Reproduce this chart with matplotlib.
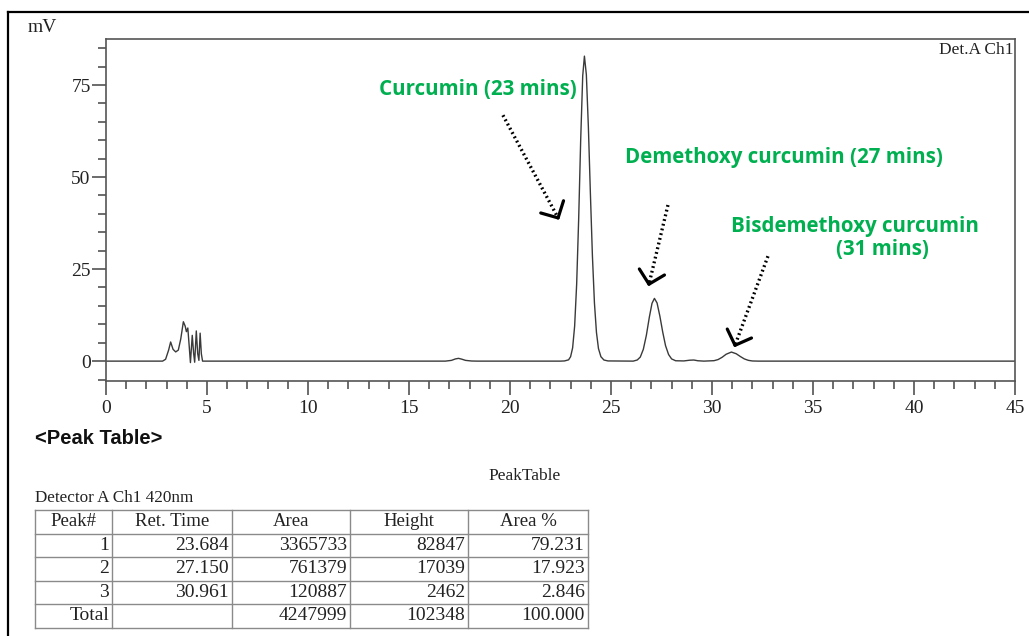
import math
import matplotlib
matplotlib.use("Agg")
import matplotlib.pyplot as plt
from matplotlib.lines import Line2D
from matplotlib.ticker import MultipleLocator

# peak table (Detector A Ch1 420nm)
peak_ids = ["1", "2", "3"]
ret_times = [23.684, 27.150, 30.961]
areas = [3365733, 761379, 120887]
heights = [82847, 17039, 2462]          # uV
area_pct = [79.231, 17.923, 2.846]
total_area = 4247999
total_height = 102348
total_pct = 100.000

# chromatogram trace (min, mV), apex points come from the peak table
trace_time = [0.0, 2.8, 2.95, 3.1, 3.2, 3.32, 3.45, 3.58, 3.7, 3.83, 3.92, 3.98, 4.05,
              4.12, 4.18, 4.27, 4.34, 4.39, 4.47, 4.54, 4.6, 4.66, 4.72, 4.78, 4.9,
              16.8, 17.1, 17.3, 17.45, 17.6, 17.8, 18.1, 18.4, 22.5,
              22.7, 22.9, 23.0, 23.1, 23.2, 23.3, 23.4, 23.5, 23.6,
              23.78, 23.88, 23.98, 24.08, 24.18, 24.28, 24.38, 24.5, 24.65, 24.85,
              26.1, 26.3, 26.45, 26.6, 26.75, 26.9, 27.03,
              27.28, 27.42, 27.56, 27.7, 27.85, 28.0, 28.2,
              28.6, 28.9, 29.1, 29.3, 29.6,
              30.1, 30.3, 30.5, 30.7,
              31.2, 31.4, 31.6, 31.8, 32.0, 32.3, 45.0]
trace_mv = [0.0, 0.0, 0.5, 3.0, 5.2, 3.2, 2.5, 3.0, 6.0, 10.7, 9.5, 8.0, 9.0,
            4.0, -0.4, 7.0, 2.0, -0.3, 8.2, 2.0, 0.2, 7.6, 2.0, 0.0, 0.0,
            0.0, 0.2, 0.6, 0.75, 0.55, 0.2, 0.03, 0.0, 0.0,
            0.05, 0.35, 1.2, 3.6, 9.5, 20.9, 38.7, 60.2, 77.5,
            77.8, 63.6, 45.5, 28.6, 15.8, 7.8, 3.4, 1.2, 0.3, 0.05,
            0.0, 0.31, 1.1, 3.2, 7.0, 12.0, 15.7,
            15.8, 12.2, 7.9, 4.2, 1.8, 0.6, 0.1,
            0.05, 0.25, 0.3, 0.1, 0.0,
            0.12, 0.42, 1.04, 1.87,
            2.0, 1.26, 0.6, 0.21, 0.04, 0.0, 0.0]

points = list(zip(trace_time, trace_mv))
points += [(t, h / 1000) for t, h in zip(ret_times, heights)]
points.sort()
tt = [p[0] for p in points]
mv = [p[1] for p in points]

W, H = 1029, 636
fig = plt.figure(figsize=(W / 100, H / 100), dpi=100)

def px(x, y):
    return x / W, 1 - y / H

serif = "Liberation Serif"
green = "#00B050"

ax = fig.add_axes([106 / W, 1 - 381 / H, 909 / W, 342 / H])
ax.plot(tt, mv, color="#3a3a3a", lw=1.0)
ax.set_xlim(0, 45)
ax.set_ylim(-5.4, 87.5)
ax.xaxis.set_major_locator(MultipleLocator(5))
ax.xaxis.set_minor_locator(MultipleLocator(1))
ax.yaxis.set_major_locator(MultipleLocator(25))
ax.yaxis.set_minor_locator(MultipleLocator(5))
ax.tick_params(which="major", length=10, width=1.1, color="#444", labelsize=14, pad=1)
ax.tick_params(which="minor", length=6, width=1.1, color="#444")
ax.tick_params(axis="x", which="major", pad=4)
for lab in ax.get_xticklabels() + ax.get_yticklabels():
    lab.set_fontfamily(serif)
    lab.set_color("#222")
for s in ax.spines.values():
    s.set_color("#555")
    s.set_linewidth(1.2)

ax.text(0.998, 0.968, "Det.A Ch1", transform=ax.transAxes, ha="right", va="center",
        family=serif, fontsize=12.5, color="#222")

# compound labels and dotted arrows
lab_kw = dict(color=green, fontsize=14.8, fontweight="bold", family="Open Sans",
              ha="center", va="center")
ax.text(18.42, 73.9, "Curcumin (23 mins)", **lab_kw)
ax.text(33.54, 55.4, "Demethoxy curcumin (27 mins)", **lab_kw)
ax.text(37.1, 36.7, "Bisdemethoxy curcumin", **lab_kw)
ax.text(38.44, 30.2, "(31 mins)", **lab_kw)

arrows = [((19.65, 66.8), (22.38, 38.9)),
          ((27.82, 42.4), (26.88, 20.9)),
          ((32.77, 28.5), (31.14, 4.3))]
to_px = ax.transData
to_data = ax.transData.inverted()
for (x0, y0), (x1, y1) in arrows:
    ax.plot([x0, x1], [y0, y1], color="black", lw=2.4, linestyle=(0, (0.55, 0.9)))
    # open V head, built in pixel space so it keeps its shape
    (a0, b0), (a1, b1) = to_px.transform([(x0, y0), (x1, y1)])
    ang = math.atan2(b0 - b1, a0 - a1)
    arm = 18
    for da in (-0.8, 0.8):
        ex, ey = a1 + arm * math.cos(ang + da), b1 + arm * math.sin(ang + da)
        (hx, hy), (tx, ty) = to_data.transform([(ex, ey), (a1, b1)])
        ax.plot([hx, tx], [hy, ty], color="black", lw=2.3, solid_capstyle="round")

# page frame lines
fig.add_artist(Line2D([8 / W, 1], [1 - 12 / H] * 2, color="black", lw=1.6))
fig.add_artist(Line2D([8 / W] * 2, [0, 1 - 12 / H], color="black", lw=1.6))

fig.text(*px(28, 27), "mV", family=serif, fontsize=14, color="#222", va="center")

# peak table section
fig.text(*px(35, 438), "<Peak Table>", family="Liberation Sans", fontweight="bold",
         fontsize=14.5, va="center", color="#111")
fig.text(*px(525, 476), "PeakTable", family=serif, fontsize=12.5, ha="center",
         va="center", color="#222")
fig.text(*px(35, 498), "Detector A Ch1 420nm", family=serif, fontsize=12.3,
         va="center", color="#222")

col_edges = [35, 112, 232, 350, 468, 588]
row_edges = [510, 533.5, 557, 580.5, 604, 628]
headers = ["Peak#", "Ret. Time", "Area", "Height", "Area %"]
rows = [headers]
for i in range(len(peak_ids)):
    rows.append([peak_ids[i], f"{ret_times[i]:.3f}", f"{areas[i]}",
                 f"{heights[i]}", f"{area_pct[i]:.3f}"])
rows.append(["Total", "", f"{total_area}", f"{total_height}", f"{total_pct:.3f}"])

grid_col = "#8a8a8a"
for x in col_edges:
    fig.add_artist(Line2D([x / W] * 2, [1 - row_edges[0] / H, 1 - row_edges[-1] / H],
                          color=grid_col, lw=1.0))
for y in row_edges:
    fig.add_artist(Line2D([col_edges[0] / W, col_edges[-1] / W], [1 - y / H] * 2,
                          color=grid_col, lw=1.0))
for r, row in enumerate(rows):
    yc = (row_edges[r] + row_edges[r + 1]) / 2
    for c, val in enumerate(row):
        if r == 0:
            xc = (col_edges[c] + col_edges[c + 1]) / 2
            fig.text(*px(xc, yc), val, family=serif, fontsize=13.5, ha="center",
                     va="center", color="#222")
        else:
            fig.text(*px(col_edges[c + 1] - 3, yc), val, family=serif, fontsize=14,
                     ha="right", va="center", color="#222")

fig.savefig("out.png", dpi=100)
